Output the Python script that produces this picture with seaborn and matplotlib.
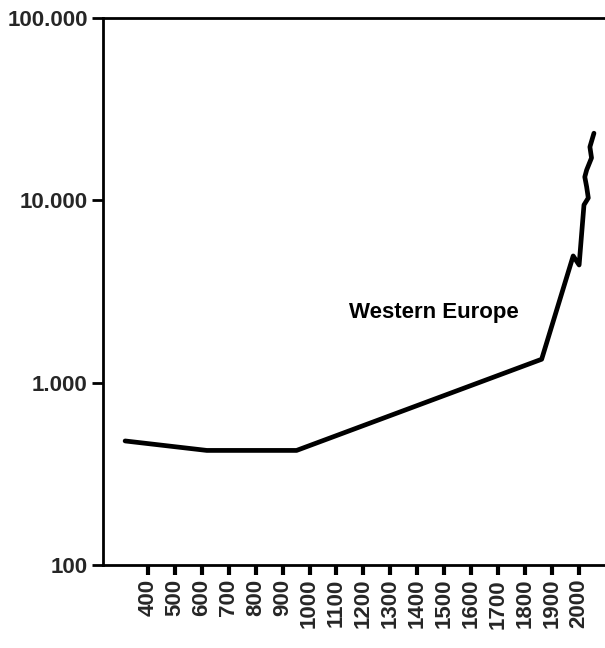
import numpy as np
import pandas as pd
import matplotlib
matplotlib.use("Agg")
import matplotlib.pyplot as plt
from matplotlib.ticker import FixedLocator, FuncFormatter, NullLocator
import seaborn as sns

# GDP per capita path for Western Europe (log scale), in drawing order
years = [316, 619, 952, 1861, 1978, 2000, 2018, 2034, 2028, 2021, 2028, 2046, 2040, 2055]
gdp = [479, 425, 425, 1344, 4955, 4420, 9436, 10310, 11840, 13440, 14680, 17090, 19630, 23340]

x_ticks = list(range(400, 2001, 100))
y_ticks = [100, 1000, 10000, 100000]
series_label = "Western Europe"

df = pd.DataFrame({"year": years, "gdp": gdp})

sns.set_style("white")
plt.rcParams["font.family"] = ["Liberation Sans", "DejaVu Sans"]
plt.rcParams["font.weight"] = "bold"

fig = plt.figure(figsize=(6.05, 6.48), dpi=100)
ax = fig.add_axes([103 / 605, 83 / 648, 1 - 103 / 605, (565 - 18) / 648])

sns.lineplot(data=df, x="year", y="gdp", sort=False, estimator=None,
             color="black", linewidth=3.4, ax=ax)

ax.set_yscale("log")
ax.set_ylim(100, 100000)
ax.set_xlim(234, 2096)

ax.xaxis.set_major_locator(FixedLocator(x_ticks))
ax.yaxis.set_major_locator(FixedLocator(y_ticks))
ax.yaxis.set_minor_locator(NullLocator())
ax.yaxis.set_major_formatter(FuncFormatter(lambda v, p: f"{v:,.0f}".replace(",", ".")))

for lbl in ax.get_xticklabels():
    lbl.set_rotation(90)

ax.tick_params(axis="x", direction="out", length=7, width=3, color="black",
               labelsize=16, pad=3, bottom=True)
ax.tick_params(axis="y", direction="out", length=8, width=2, color="black",
               labelsize=16, pad=3, left=True)
for lbl in ax.get_xticklabels() + ax.get_yticklabels():
    lbl.set_fontweight("bold")

ax.set_xlabel("")
ax.set_ylabel("")

for side in ("left", "bottom", "top"):
    ax.spines[side].set_visible(True)
    ax.spines[side].set_color("black")
    ax.spines[side].set_linewidth(2)
ax.spines["right"].set_visible(False)

ax.text(1461, 2411, series_label, ha="center", va="center",
        fontsize=16, fontweight="bold", color="black")

fig.savefig("out.png", dpi=100, facecolor="white")
